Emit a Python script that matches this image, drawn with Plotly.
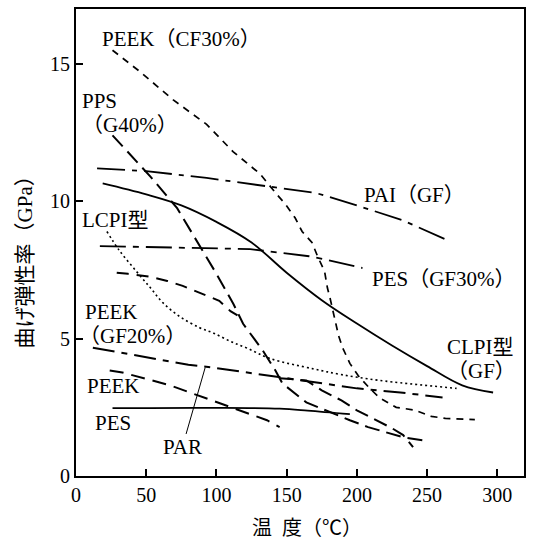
import plotly.graph_objects as go

# ---- data (temperature degC, flexural modulus GPa) ----
peek_cf30_x = [26, 46, 69, 93, 112, 131, 143, 149, 156, 161, 168, 172, 177, 179, 181, 184, 187, 190, 195, 201, 209, 216, 228, 241, 253, 263, 284]
peek_cf30_y = [15.5, 14.7, 13.7, 12.8, 11.8, 11.0, 10.25, 9.9, 9.4, 8.9, 8.5, 8.0, 7.45, 6.85, 6.45, 5.75, 5.1, 4.65, 4.1, 3.65, 3.2, 2.85, 2.5, 2.4, 2.17, 2.1, 2.05]

pps_x = [26, 53, 72, 100, 112, 119, 133, 142, 147, 164, 195, 208, 233, 247]
pps_y = [12.4, 10.9, 9.75, 7.36, 6.27, 5.54, 4.57, 3.84, 3.37, 2.68, 2.03, 1.78, 1.41, 1.3]

pai_x = [15, 50, 93, 145, 171, 197, 233, 266]
pai_y = [11.2, 11.1, 10.85, 10.5, 10.3, 9.9, 9.3, 8.55]

clpi_x = [19, 50, 75, 100, 125, 150, 175, 200, 225, 250, 275, 297]
clpi_y = [10.65, 10.25, 9.85, 9.25, 8.5, 7.4, 6.4, 5.55, 4.75, 4.0, 3.3, 3.04]

lcpi_x = [22, 31, 43, 53, 62, 74, 88, 98, 110, 122, 138, 169, 188, 216, 271]
lcpi_y = [8.9, 8.2, 7.45, 6.85, 6.3, 5.8, 5.4, 5.2, 4.9, 4.65, 4.28, 3.9, 3.7, 3.48, 3.19]

pes_gf30_x = [17, 60, 124, 166, 176, 204]
pes_gf30_y = [8.37, 8.32, 8.26, 8.0, 7.9, 7.57]

unlabeled_x = [29, 37, 53, 65, 76, 88, 102, 110, 115]
unlabeled_y = [7.4, 7.36, 7.25, 7.1, 6.92, 6.67, 6.38, 6.0, 5.85]

peek_gf20_x = [12, 80, 97, 131, 164, 200, 231, 261]
peek_gf20_y = [4.67, 4.05, 3.95, 3.7, 3.48, 3.19, 3.04, 2.86]

par_x = [145, 160, 164, 175, 189, 200, 225, 233, 240]
par_y = [3.56, 3.5, 3.48, 3.12, 2.75, 2.39, 1.74, 1.49, 1.05]

peek_x = [24, 33, 67, 100, 136, 145]
peek_y = [3.84, 3.77, 3.3, 2.68, 2.03, 1.78]

pes_x = [26, 100, 145, 165, 195]
pes_y = [2.47, 2.48, 2.45, 2.38, 2.25]

x_ticks = [0, 50, 100, 150, 200, 250, 300]
y_ticks = [0, 5, 10, 15]

SERIF = "Liberation Serif, Noto Sans CJK JP, serif"

fig = go.Figure()

def add(x, y, dash, width=1.8, shape="linear"):
    line = dict(color="black", width=width, dash=dash, shape=shape)
    if shape == "spline":
        line["smoothing"] = 1.0
    fig.add_trace(go.Scatter(x=x, y=y, mode="lines", line=line,
                             showlegend=False, hoverinfo="skip"))

add(peek_cf30_x, peek_cf30_y, "7px,6px", 1.7)
add(pps_x, pps_y, "15px,7px", 2)
add(pai_x, pai_y, "28px,7px,5px,7px", 1.8)
add(clpi_x, clpi_y, "solid", 1.8, "spline")
add(lcpi_x, lcpi_y, "2px,3px", 1.6, "spline")
add(pes_gf30_x, pes_gf30_y, "26px,7px,6px,7px", 1.8)
add(unlabeled_x, unlabeled_y, "12px,8px", 2)
add(peek_gf20_x, peek_gf20_y, "22px,7px,6px,7px", 2)
add(par_x, par_y, "14px,7px", 2)
add(peek_x, peek_y, "14px,8px", 2)
add(pes_x, pes_y, "solid", 1.8, "spline")

labels = [
    ("PEEK（CF30%）", 17.1, 15.9),
    ("PPS", 2.85, 13.66),
    ("（G40%）", 2.85, 12.79),
    ("LCPI型", 2.85, 9.31),
    ("PAI（GF）", 203.6, 10.22),
    ("PES（GF30%）", 209.3, 7.17),
    ("CLPI型", 262.6, 4.71),
    ("（GF）", 262.6, 3.84),
    ("PEEK", 5.0, 5.98),
    ("（GF20%）", 0.5, 5.1),
    ("PEEK", 6.4, 3.26),
    ("PES", 12.1, 1.92),
]
for t, x, y in labels:
    fig.add_annotation(x=x, y=y, text=t, showarrow=False, xanchor="left", yanchor="middle",
                       font=dict(family=SERIF, size=21, color="black"))

fig.add_annotation(x=92, y=3.95, text="PAR", showarrow=True, arrowhead=0, arrowwidth=1,
                   arrowcolor="black", ax=-23, ay=80,
                   font=dict(family=SERIF, size=21, color="black"))

fig.add_annotation(xref="paper", yref="paper", x=-0.114, y=0.47, text="曲げ弾性率（GPa）",
                   textangle=-90, showarrow=False, xanchor="center", yanchor="middle",
                   font=dict(family=SERIF, size=21, color="black"))
fig.add_annotation(xref="paper", yref="paper", x=0.516, y=-0.111, text="温&nbsp;&nbsp;度（℃）",
                   showarrow=False, xanchor="center", yanchor="middle",
                   font=dict(family=SERIF, size=20, color="black"))

axis_common = dict(showline=True, mirror=True, linecolor="black", linewidth=2,
                   ticks="inside", ticklen=7, tickwidth=1.5, tickcolor="black",
                   showgrid=False, zeroline=False,
                   tickfont=dict(family=SERIF, size=20, color="black"))

fig.update_xaxes(range=[0, 319], tickvals=x_ticks, **axis_common)
fig.update_yaxes(range=[0, 17], tickvals=y_ticks, **axis_common)

fig.update_layout(width=543, height=543, margin=dict(l=76, r=19, t=7, b=67),
                  paper_bgcolor="white", plot_bgcolor="white")

fig.write_html("out.html")
